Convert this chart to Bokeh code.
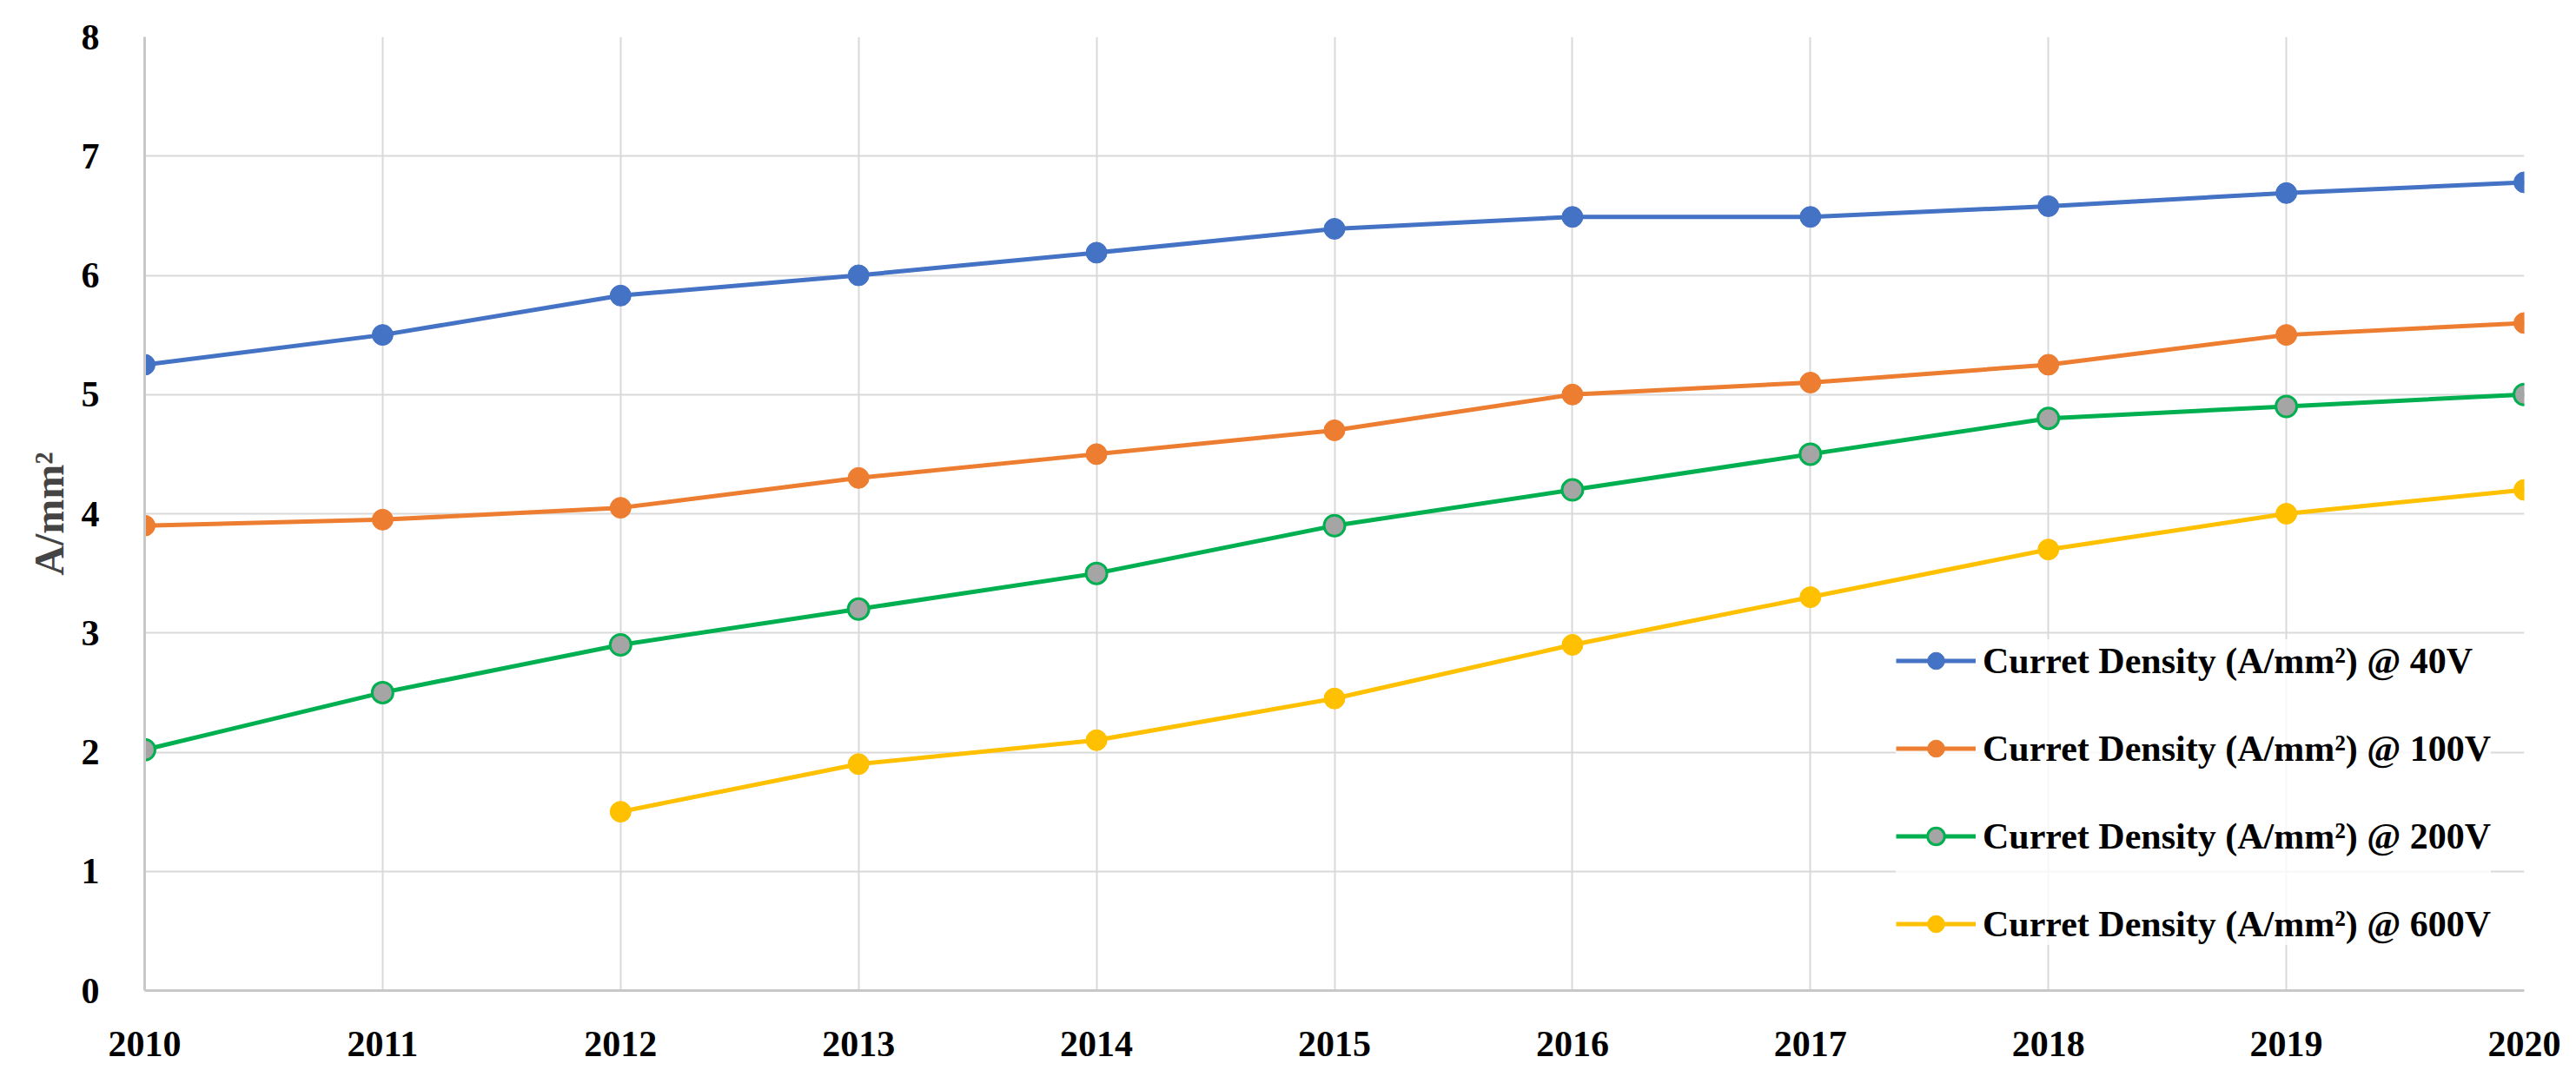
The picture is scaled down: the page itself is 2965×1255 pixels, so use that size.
from bokeh.plotting import figure
from bokeh.models import Legend, LegendItem, FixedTicker, Range1d
from bokeh.embed import file_html
from bokeh.resources import INLINE

years = [2010, 2011, 2012, 2013, 2014, 2015, 2016, 2017, 2018, 2019, 2020]
v40 = [5.25, 5.5, 5.83, 6.0, 6.19, 6.39, 6.49, 6.49, 6.58, 6.69, 6.78]
v100 = [3.9, 3.95, 4.05, 4.3, 4.5, 4.7, 5.0, 5.1, 5.25, 5.5, 5.6]
v200 = [2.02, 2.5, 2.9, 3.2, 3.5, 3.9, 4.2, 4.5, 4.8, 4.9, 5.0]
years600 = [2012, 2013, 2014, 2015, 2016, 2017, 2018, 2019, 2020]
v600 = [1.5, 1.9, 2.1, 2.45, 2.9, 3.3, 3.7, 4.0, 4.2]
labels = ["Curret Density (A/mm\u00b2) @ 40V", "Curret Density (A/mm\u00b2) @ 100V",
          "Curret Density (A/mm\u00b2) @ 200V", "Curret Density (A/mm\u00b2) @ 600V"]
y_ticks = [0, 1, 2, 3, 4, 5, 6, 7, 8]

FONT = "Liberation Serif"

p = figure(width=2949, height=1239, output_backend="svg", toolbar_location=None,
           x_range=Range1d(2010, 2020), y_range=Range1d(0, 8),
           min_border_left=166, min_border_right=44, min_border_top=42, min_border_bottom=99)
p.outline_line_color = None
p.background_fill_color = "white"

for ax in (p.xaxis[0], p.yaxis[0]):
    ax.major_tick_line_color = None
    ax.minor_tick_line_color = None
    ax.axis_line_color = "#c8c8c8"
    ax.axis_line_width = 3
    ax.major_label_text_font = FONT
    ax.major_label_text_font_style = "bold"
    ax.major_label_text_font_size = "42px"
    ax.major_label_text_color = "black"

p.xaxis.ticker = FixedTicker(ticks=years)
p.yaxis.ticker = FixedTicker(ticks=y_ticks)
p.xaxis.major_label_standoff = 41
p.yaxis.major_label_standoff = 46
p.yaxis.axis_label = "A/mm\u00b2"
p.yaxis.axis_label_text_font = FONT
p.yaxis.axis_label_text_font_style = "bold"
p.yaxis.axis_label_text_font_size = "48px"
p.yaxis.axis_label_standoff = 8

p.xgrid.grid_line_color = "#d9d9d9"
p.xgrid.grid_line_width = 2
p.ygrid.grid_line_color = "#d9d9d9"
p.ygrid.grid_line_width = 2

colors = ["#4472C4", "#ED7D31", "#00B050", "#FFC000"]
fills = ["#4472C4", "#ED7D31", "#A5A5A5", "#FFC000"]
series = [(years, v40), (years, v100), (years, v200), (years600, v600)]

items = []
for (xs, ys), c, f, lab in zip(series, colors, fills, labels):
    r1 = p.line(xs, ys, line_color=c, line_width=5)
    r2 = p.scatter(xs, ys, size=24, fill_color=f, line_color=c, line_width=3 if f != c else 1)
    items.append(LegendItem(label=lab, renderers=[r1, r2]))

legend = Legend(items=items, location=(2016, 52), orientation="vertical",
                label_text_font=FONT, label_text_font_style="bold", label_text_font_size="42px",
                label_text_color="black", glyph_width=92, glyph_height=49, label_height=49,
                spacing=52, padding=14, label_standoff=8,
                background_fill_color="white", background_fill_alpha=0.8,
                border_line_color=None)
p.add_layout(legend, "center")

open("out.html", "w").write(file_html(p, INLINE))
